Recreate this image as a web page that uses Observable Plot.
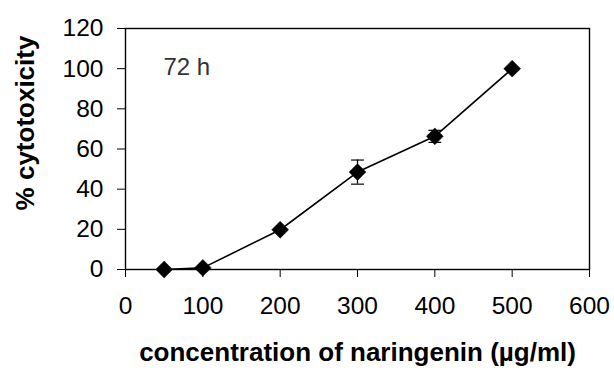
<!DOCTYPE html>
<html>
<head>
<meta charset="utf-8">
<script src="https://cdn.jsdelivr.net/npm/d3@7"></script>
<script src="https://cdn.jsdelivr.net/npm/@observablehq/plot@0.6"></script>
<style>
  html, body { margin: 0; padding: 0; background: #fff; }
  #chart svg { display: block; }
</style>
</head>
<body>
<div id="chart"></div>
<script>
const concentrations = [50, 100, 200, 300, 400, 500];
const cytotoxicity = [0, 0.8, 19.8, 48.5, 66.3, 100];
const errors = [0, 0, 0, 6, 3, 0];
const xTicks = [0, 100, 200, 300, 400, 500, 600];
const yTicks = [0, 20, 40, 60, 80, 100, 120];
const xLabel = "concentration of naringenin (µg/ml)";
const yLabel = "% cytotoxicity";
const annotation = "72 h";

const data = concentrations.map((c, i) => ({x: c, y: cytotoxicity[i], e: errors[i]}));
const errData = data.filter(d => d.e > 0);

const capSymbol = {
  draw(ctx, size) {
    const w = Math.sqrt(size);
    ctx.moveTo(-w, 0);
    ctx.lineTo(w, 0);
  }
};

const chart = Plot.plot({
  width: 614,
  height: 372,
  marginLeft: 125,
  marginRight: 25,
  marginTop: 28,
  marginBottom: 103,
  style: {fontFamily: "'Liberation Sans', Arial, sans-serif", color: "#000", background: "#fff"},
  x: {domain: [0, 600]},
  y: {domain: [0, 120]},
  marks: [
    Plot.frame({stroke: "#000", strokeWidth: 1.4}),
    Plot.axisX({ticks: xTicks, tickSize: 8, tickPadding: 19, fontSize: 24.5, label: null, tickFormat: d => String(d)}),
    Plot.axisY({ticks: yTicks, tickSize: 8, tickPadding: 14, fontSize: 24.5, label: null, tickFormat: d => String(d)}),
    Plot.ruleX(errData, {x: "x", y1: d => d.y - d.e, y2: d => d.y + d.e, stroke: "#000", strokeWidth: 1.2}),
    Plot.dot(errData, {x: "x", y: d => d.y - d.e, symbol: capSymbol, r: 3.6, stroke: "#000", strokeWidth: 1.2, fill: "none"}),
    Plot.dot(errData, {x: "x", y: d => d.y + d.e, symbol: capSymbol, r: 3.6, stroke: "#000", strokeWidth: 1.2, fill: "none"}),
    Plot.line(data, {x: "x", y: "y", stroke: "#000", strokeWidth: 1.6}),
    Plot.dot(data, {x: "x", y: "y", symbol: "diamond2", r: 7.6, fill: "#000", stroke: "#000", strokeWidth: 0.5}),
    Plot.text([annotation], {frameAnchor: "top-left", dx: 38, dy: 39, textAnchor: "start", lineAnchor: "middle", fontSize: 24, fill: "#333"}),
    Plot.text([xLabel], {frameAnchor: "bottom", dy: 83, textAnchor: "middle", lineAnchor: "middle", fontSize: 26, fontWeight: "bold", fill: "#000", letterSpacing: "0.8px"}),
    Plot.text([yLabel], {frameAnchor: "left", dx: -100, dy: -26, rotate: -90, textAnchor: "middle", lineAnchor: "middle", fontSize: 26, fontWeight: "bold", fill: "#000"})
  ]
});
document.getElementById("chart").appendChild(chart);
</script>
</body>
</html>
